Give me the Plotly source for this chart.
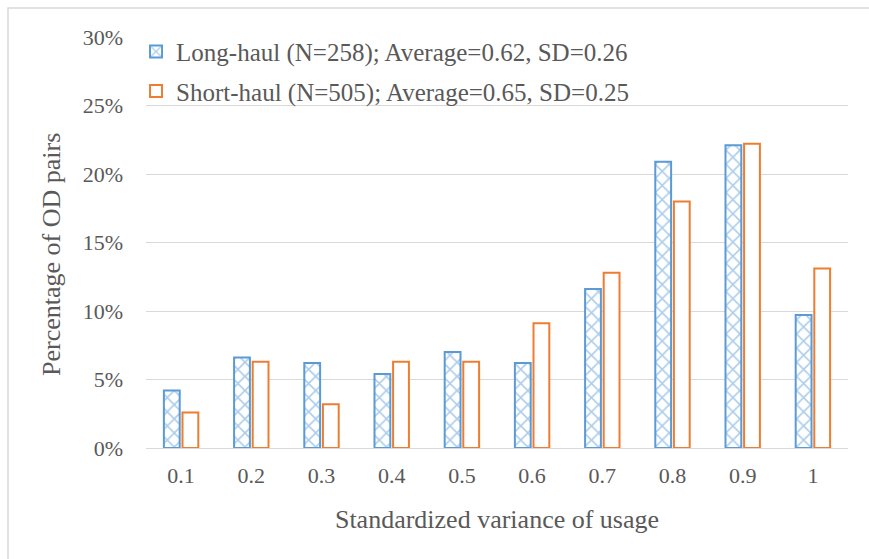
import plotly.graph_objects as go

categories = ["0.1", "0.2", "0.3", "0.4", "0.5", "0.6", "0.7", "0.8", "0.9", "1"]
long_haul = [4.2, 6.6, 6.2, 5.4, 7.0, 6.2, 11.6, 20.9, 22.1, 9.7]
short_haul = [2.6, 6.3, 3.2, 6.3, 6.3, 9.1, 12.8, 18.0, 22.2, 13.1]
long_name = "Long-haul (N=258); Average=0.62, SD=0.26"
short_name = "Short-haul (N=505); Average=0.65, SD=0.25"

BLUE = "#5b9bd5"
ORANGE = "#ed7d31"
TXT = "#595959"
FONT = '"Liberation Serif", "Times New Roman", serif'

fig = go.Figure()
fig.add_trace(go.Bar(
    x=categories, y=long_haul, name=long_name, legendgroup="a",
    marker=dict(color="white", line=dict(color=BLUE, width=2),
                pattern=dict(shape="x", fgcolor=BLUE, bgcolor="white", size=10, solidity=0.3)),
))
fig.add_trace(go.Bar(
    x=categories, y=short_haul, name=short_name, legendgroup="b",
    marker=dict(color="white", line=dict(color=ORANGE, width=2)),
))

L, R, T, B = 146, 21, 37, 111
W, H = 869, 559
pw, ph = W - L - R, H - T - B

fig.update_layout(
    width=W, height=H,
    margin=dict(l=L, r=R, t=T, b=B),
    paper_bgcolor="white", plot_bgcolor="white",
    font=dict(family=FONT, size=22, color=TXT),
    bargap=0.47, bargroupgap=0.15,
    showlegend=True,
    legend=dict(x=-0.0142, y=1.02, xanchor="left", yanchor="top", bgcolor="rgba(0,0,0,0)",
                font=dict(family=FONT, size=25, color=TXT), tracegroupgap=4,
                itemwidth=30),
    xaxis=dict(showgrid=False, showline=True, linecolor="#d9d9d9", linewidth=1,
               ticks="", tickfont=dict(size=22), ticklabelstandoff=8, automargin=False,
               title=dict(text="Standardized variance of usage", standoff=22, font=dict(size=26))),
    yaxis=dict(range=[0, 30], dtick=5, ticksuffix="%", showgrid=True, gridcolor="#d9d9d9",
               gridwidth=1, zeroline=False, showline=False, ticks="", automargin=False,
               tickfont=dict(size=22), ticklabelstandoff=22),
    annotations=[dict(text="Percentage of OD pairs", textangle=-90, showarrow=False,
                      xref="paper", yref="paper", x=(51 - L) / pw, y=1 - (255 - T) / ph,
                      xanchor="center", yanchor="middle",
                      font=dict(family=FONT, size=26, color=TXT))],
    shapes=[dict(type="rect", xref="paper", yref="paper",
                 x0=(8 - L) / pw, x1=1.2, y0=-0.5, y1=1 + (T - 8) / ph,
                 line=dict(color="#d9d9d9", width=1.5), fillcolor="rgba(0,0,0,0)", layer="below")],
)

fig.write_html("out.html")
